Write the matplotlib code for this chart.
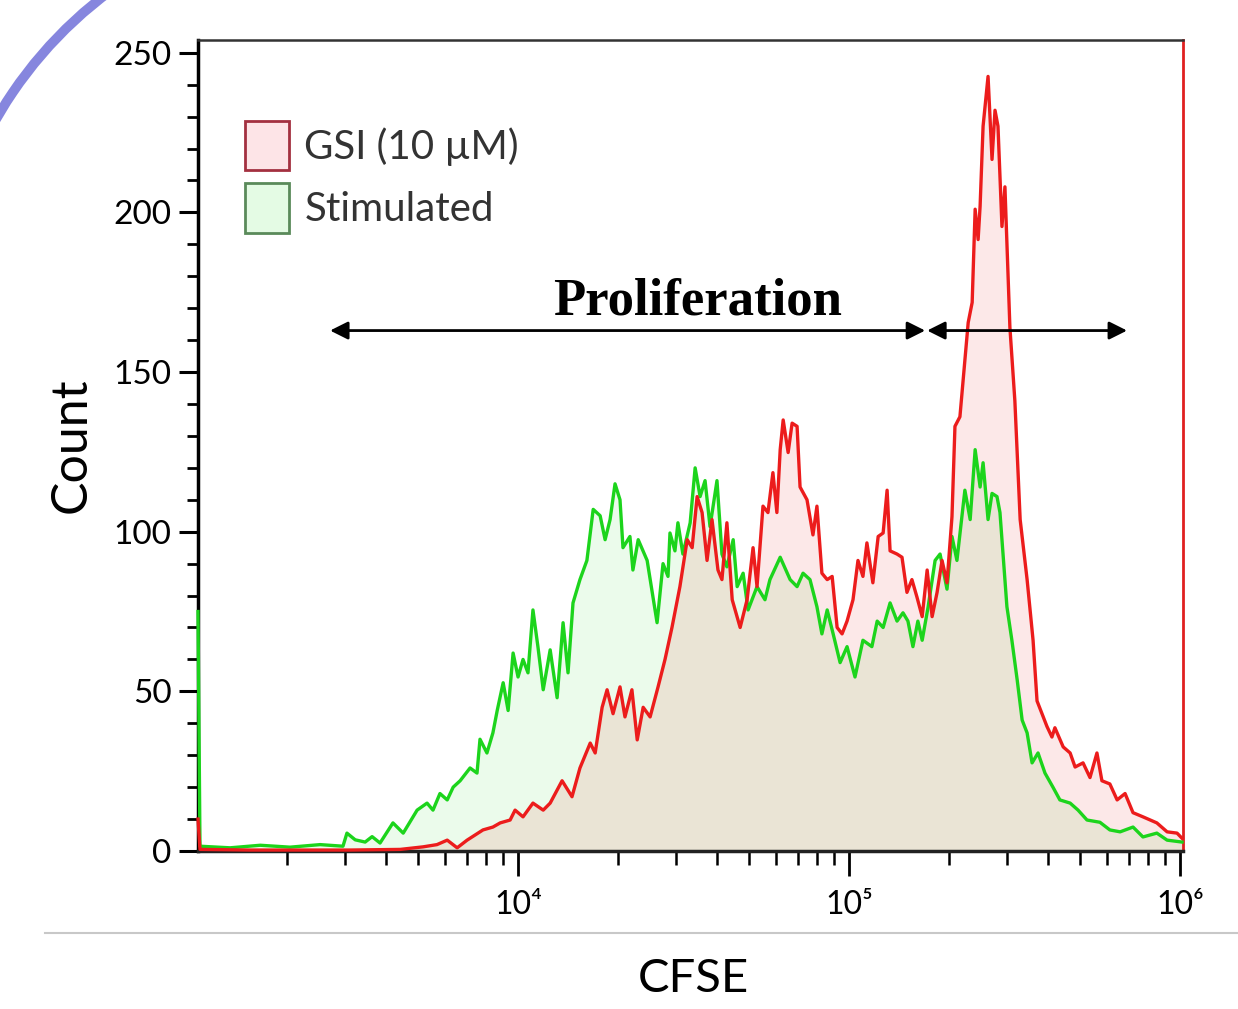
import numpy as np
import matplotlib
matplotlib.use("Agg")
import matplotlib.pyplot as plt
from matplotlib.patches import Arc, Rectangle
from matplotlib.lines import Line2D
from matplotlib.ticker import FixedLocator, LogLocator, MultipleLocator, NullFormatter

# --- data (x = log10 CFSE, y = count) ---
stim_log_cfse = [3.033, 3.039, 3.130, 3.221, 3.311, 3.402, 3.471, 3.483, 3.508, 3.538, 3.559, 3.583,
                 3.622, 3.653, 3.695, 3.725, 3.743, 3.764, 3.786, 3.804, 3.825, 3.855,
                 3.876, 3.885, 3.906, 3.924, 3.937, 3.955, 3.970, 3.985, 4.000, 4.015,
                 4.030, 4.045, 4.060, 4.076, 4.097, 4.118, 4.136, 4.151, 4.166, 4.187,
                 4.208, 4.227, 4.248, 4.263, 4.278, 4.293, 4.308, 4.317, 4.338, 4.347,
                 4.363, 4.390, 4.420, 4.438, 4.453, 4.459, 4.474, 4.483, 4.498, 4.520,
                 4.535, 4.550, 4.565, 4.580, 4.601, 4.616, 4.631, 4.650, 4.662, 4.680,
                 4.695, 4.722, 4.746, 4.761, 4.792, 4.822, 4.843, 4.861, 4.882, 4.903,
                 4.918, 4.934, 4.952, 4.973, 4.994, 5.018, 5.042, 5.069, 5.085, 5.103,
                 5.124, 5.145, 5.163, 5.178, 5.193, 5.208, 5.221, 5.239, 5.260, 5.275,
                 5.296, 5.311, 5.326, 5.350, 5.366, 5.381, 5.396, 5.405, 5.420, 5.432,
                 5.447, 5.456, 5.477, 5.492, 5.508, 5.523, 5.538, 5.553, 5.571, 5.592,
                 5.616, 5.637, 5.668, 5.692, 5.719, 5.758, 5.788, 5.819, 5.858, 5.888,
                 5.930, 5.961, 6.006]
stim_count = [75, 1.5, 1.0, 1.8, 1.2, 2.0, 1.5, 5.6, 3.5, 2.8, 4.5, 2.5,
              8.8, 5.6, 12.8, 15, 12.8, 18, 16, 20, 22, 26,
              24.4, 35, 30.7, 37, 44, 52.7, 44, 62, 54.5, 60,
              55.8, 75.5, 64, 50.5, 63, 48, 71.5, 55.8, 77.7, 85,
              91, 107, 105, 97.5, 103.8, 115, 110, 95, 98.5, 88,
              97.5, 91, 71.5, 90, 86, 99.6, 94, 102.8, 93, 102.8,
              120, 111, 116, 101.6, 116, 93, 89, 97.5, 82.8, 87,
              75.5, 82.8, 78.7, 85, 92, 85, 82.8, 87, 85, 76.5,
              68, 75.5, 68, 59, 64, 54.5, 66, 64, 72, 70,
              77.7, 72, 74.6, 72, 64, 72, 66, 76.5, 91, 93,
              82, 98.5, 91, 113, 103.8, 125.7, 114, 121.6, 103.8, 112,
              111, 106, 76.5, 66, 53.6, 41, 37, 27.6, 30.7, 24.4,
              20, 16, 15, 12.8, 9.7, 9, 6.6, 6, 7.5, 4.4,
              5.6, 3.4, 2.8]

gsi_log_cfse = [3.033, 3.039, 3.190, 3.341, 3.492, 3.644, 3.713, 3.755, 3.786, 3.816,
                3.846, 3.894, 3.924, 3.946, 3.976, 3.991, 4.015, 4.045, 4.076, 4.097,
                4.133, 4.163, 4.187, 4.218, 4.233, 4.254, 4.269, 4.287, 4.308, 4.323,
                4.344, 4.360, 4.378, 4.399, 4.423, 4.444, 4.465, 4.489, 4.511, 4.526,
                4.541, 4.556, 4.571, 4.586, 4.604, 4.616, 4.631, 4.647, 4.671, 4.692,
                4.710, 4.722, 4.740, 4.755, 4.770, 4.782, 4.792, 4.801, 4.816, 4.828,
                4.843, 4.852, 4.873, 4.891, 4.903, 4.918, 4.934, 4.949, 4.964, 4.979,
                4.994, 5.012, 5.027, 5.042, 5.054, 5.072, 5.088, 5.103, 5.115, 5.124,
                5.145, 5.160, 5.175, 5.190, 5.205, 5.221, 5.236, 5.251, 5.266, 5.281,
                5.296, 5.311, 5.320, 5.335, 5.344, 5.360, 5.372, 5.381, 5.390, 5.396,
                5.405, 5.420, 5.432, 5.441, 5.450, 5.462, 5.471, 5.486, 5.501, 5.517,
                5.538, 5.556, 5.568, 5.598, 5.613, 5.622, 5.647, 5.668, 5.683, 5.707,
                5.728, 5.749, 5.764, 5.788, 5.810, 5.834, 5.858, 5.888, 5.930, 5.961,
                5.991, 6.006]
gsi_count = [10, 0.5, 0.3, 0.3, 0.3, 0.5, 1.3, 2, 3.4, 1,
             3.4, 6.6, 7.5, 8.8, 9.7, 12.8, 10.7, 15, 12.8, 15,
             22, 17, 26, 33.8, 30.7, 45, 50.5, 43, 51.4, 42,
             50.5, 34.8, 45, 42, 51.4, 60, 70, 82.8, 97.5, 95,
             111, 106, 91, 103.8, 88, 85, 102.8, 78.7, 70, 78.7,
             95, 82.8, 108, 106, 118.5, 106, 125.7, 135, 124.8, 134,
             133, 114, 110, 99, 108, 87, 85, 86, 70, 68,
             72, 78.7, 91, 86, 96.5, 84, 98.5, 99.6, 113, 94,
             93, 92, 81, 85, 79.6, 73.4, 88, 73.4, 81, 91,
             84, 104.7, 133, 136, 146.7, 165.5, 171.8, 201, 191.5, 202,
             227, 242.6, 216.6, 232, 227, 195.6, 208, 164, 141, 103.8,
             85, 66, 47, 39, 35.7, 38.6, 32.6, 30.7, 26.3, 27.6,
             23, 30.7, 22, 21, 16, 18, 12, 10.7, 8.8, 6,
             5.6, 4]

legend_labels = ["GSI (10 µM)", "Stimulated"]
x_tick_labels = ["10\u2074", "10\u2075", "10\u2076"]

# arrow annotations (log10 CFSE, count)
arrow_y = 163
prolif_span = (3.432, 5.230)
second_span = (5.236, 5.840)

sans = ["Lato", "DejaVu Sans"]
plt.rcParams["font.family"] = sans

stim_cfse = 10 ** np.array(stim_log_cfse)
gsi_cfse = 10 ** np.array(gsi_log_cfse)

fig = plt.figure(figsize=(12.38, 10.09), dpi=100)
ax = fig.add_axes([198 / 1238, 158 / 1009, 985 / 1238, 811 / 1009])

ax.fill_between(stim_cfse, stim_count, 0, color="#00cc00", alpha=0.08, lw=0)
ax.fill_between(gsi_cfse, gsi_count, 0, color="#e60000", alpha=0.09, lw=0)
ax.plot(stim_cfse, stim_count, color="#1cd41c", lw=2.4, clip_on=False, zorder=3)
ax.plot(gsi_cfse, gsi_count, color="#ec1c1c", lw=2.4, clip_on=False, zorder=3)

ax.set_xscale("log")
ax.set_xlim(10 ** 3.033, 10 ** 6.009)
ax.set_ylim(0, 254)

ax.xaxis.set_major_locator(FixedLocator([1e4, 1e5, 1e6]))
ax.set_xticklabels(x_tick_labels)
ax.xaxis.set_minor_locator(LogLocator(base=10, subs=range(2, 10), numticks=50))
ax.xaxis.set_minor_formatter(NullFormatter())
ax.yaxis.set_major_locator(MultipleLocator(50))
ax.yaxis.set_minor_locator(MultipleLocator(10))

ax.tick_params(axis="y", which="major", length=14, width=2.2, labelsize=24, pad=5)
ax.tick_params(axis="y", which="minor", length=8, width=2)
ax.tick_params(axis="x", which="major", length=18, width=2, labelsize=23, pad=10)
ax.tick_params(axis="x", which="minor", length=10, width=1.8)

ax.spines["left"].set_linewidth(2.5)
ax.spines["bottom"].set_linewidth(2.5)
ax.spines["bottom"].set_color("#222222")
ax.spines["top"].set_linewidth(1.8)
ax.spines["top"].set_color("#333333")
ax.spines["right"].set_linewidth(2)
ax.spines["right"].set_color("#e02020")

# legend drawn by hand (big square swatches)
ax.add_patch(Rectangle((0.048, 0.840), 0.044, 0.060, transform=ax.transAxes,
                       facecolor="#fde4e7", edgecolor="#a33040", lw=2))
ax.add_patch(Rectangle((0.048, 0.762), 0.044, 0.062, transform=ax.transAxes,
                       facecolor="#e4fbe4", edgecolor="#5a8a5a", lw=2))
ax.text(0.108, 0.868, legend_labels[0], transform=ax.transAxes, fontsize=29, va="center", color="#333333")
ax.text(0.108, 0.791, legend_labels[1], transform=ax.transAxes, fontsize=29, va="center", color="#333333")

ax.text(10 ** 4.541, 168, "Proliferation", ha="center", va="baseline", fontsize=38,
        fontweight="bold", family="Liberation Serif")

arrow_kw = dict(arrowstyle="<|-|>,head_length=0.9,head_width=0.45", mutation_scale=12,
                lw=2, color="black", shrinkA=0, shrinkB=0)
ax.annotate("", xy=(10 ** prolif_span[1], arrow_y), xytext=(10 ** prolif_span[0], arrow_y), arrowprops=arrow_kw)
ax.annotate("", xy=(10 ** second_span[1], arrow_y), xytext=(10 ** second_span[0], arrow_y), arrowprops=arrow_kw)

fig.text(72 / 1238, 1 - 445 / 1009, "Count", rotation=90, fontsize=36, ha="center", va="center")
fig.text(693 / 1238, 1 - 979 / 1009, "CFSE", fontsize=34, ha="center", va="center")

# separator line and slide decoration
fig.add_artist(Line2D([45 / 1238, 1], [1 - 933 / 1009] * 2, color="#c8c8c8", lw=1.5,
                      transform=fig.transFigure))
fig.add_artist(Arc((357 / 1238, 1 - 326 / 1009), 2 * 416 / 1238, 2 * 416 / 1009,
                   theta1=115, theta2=170, color="#8686de", lw=7, transform=fig.transFigure))

fig.savefig("out.png", dpi=100)
